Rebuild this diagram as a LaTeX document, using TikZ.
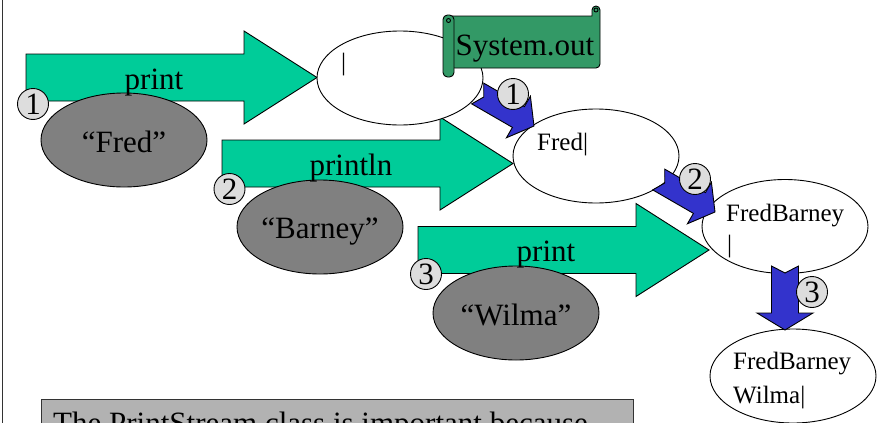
\documentclass[tikz,border=0pt]{standalone}
\usepackage{fontspec}
\setmainfont{Liberation Serif}
\usetikzlibrary{shapes.geometric}

\definecolor{sea}{HTML}{00CC99}
\definecolor{scrollgreen}{HTML}{339966}
\definecolor{royal}{HTML}{3333CC}
\definecolor{stone}{HTML}{808080}
\definecolor{pale}{HTML}{DDDDDD}
\definecolor{panel}{HTML}{B2B2B2}

\newcommand\bigfont{\fontsize{31}{36}\selectfont}
\newcommand\buffont{\fontsize{25}{30}\selectfont}

\tikzset{
  outline/.style={draw=black, line width=0.9pt},
  argblob/.style={ellipse, outline, fill=stone, minimum width=166pt, minimum height=94pt, inner sep=0pt},
  bufblob/.style={ellipse, outline, fill=white, minimum width=166pt, minimum height=94pt, inner sep=0pt},
  numtag/.style={circle, outline, fill=pale, minimum size=31pt, inner sep=0pt, font=\bigfont},
  bigtext/.style={font=\bigfont, inner sep=0pt, anchor=base},
  buftext/.style={font=\buffont, inner sep=0pt, anchor=base west},
  % wide method-call arrow, origin at the middle of its tail
  pics/callarrow/.style={code={
    \draw[outline, fill=sea] (0,-23.5) -- (218,-23.5) -- (218,-46.5) -- (291,0)
      -- (218,46.5) -- (218,23.5) -- (0,23.5) -- cycle;}},
  % notched block arrow, origin at its tip:
  % #1 length, #2 half shaft, #3 half head, #4 head length, #5 notch depth
  pics/notcharrow/.style n args={5}{code={
    \draw[outline, fill=royal] (0,0) -- (-#4,#3) -- (-#4,#2) -- (-#1,#2) -- (-#1+#5,0)
      -- (-#1,-#2) -- (-#4,-#2) -- (-#4,-#3) -- cycle;}},
}

\begin{document}
\begin{tikzpicture}[x=1pt,y=-1pt]
\useasboundingbox (0,0) rectangle (881,423);
\clip (0,0) rectangle (881,423);

% left rule
\coordinate (ruletop) at (2.5,0);
\coordinate (rulebot) at (2.5,423);
\draw[line width=0.8pt, draw=black!80] (ruletop) -- (rulebot);

% call arrows
\pic at (26,77.5) {callarrow};
\pic at (222,163.5) {callarrow};
\pic at (418,250) {callarrow};

% stream buffer states
\node[bufblob] (buf0) at (400,78) {};
\node[bufblob] (buf1) at (596,156) {};
\node[bufblob] (buf2) at (785,226.5) {};
\node[bufblob] (buf3) at (793,376) {};
\node[buftext] (cur0) at (341,70) {|};
\node[buftext] (txt1) at (537,150) {Fred|};
\node[buftext] (txt2a) at (726,221) {FredBarney};
\node[buftext] (txt2b) at (727,252) {|};
\node[buftext] (txt3a) at (733,369) {FredBarney};
\node[buftext] (txt3b) at (733,403) {Wilma|};

% string arguments
\node[argblob] (fred) at (124,140) {};
\node[argblob] (barney) at (320,227) {};
\node[argblob] (wilma) at (516,313) {};
\node[bigtext] (fredtxt) at (124,152) {“Fred”};
\node[bigtext] (barneytxt) at (320,238) {“Barney”};
\node[bigtext] (wilmatxt) at (516,325) {“Wilma”};

% method names
\node[bigtext] (call1) at (154,89) {print};
\node[bigtext] (call2) at (351,175) {println};
\node[bigtext] (call3) at (546,261) {print};

% System.out scroll
\draw[outline, fill=scrollgreen] (452,16) -- (592,16) -- (592,10)
  arc[start angle=180, end angle=360, radius=4] -- (600,64)
  arc[start angle=0, end angle=90, radius=4] -- (452,68) -- cycle;
\draw[outline] (596,10) circle[radius=2];
\draw[outline, fill=scrollgreen, rounded corners=4.5] (443,15) rectangle (454,77);
\draw[outline] (448.5,20.5) circle[radius=2];
\node[bigtext] (sysout) at (525,55) {System.out};

% buffer transitions
\pic[rotate=-30] at (534,126) {notcharrow={65}{12}{24}{18}{7}};
\pic[rotate=-30] at (715,212) {notcharrow={65}{12}{24}{18}{7}};
\pic[rotate=-90] at (785,330) {notcharrow={64}{13.5}{28}{17}{7}};

% step numbers
\node[numtag] (n1a) at (33,104) {1};
\node[numtag] (n2a) at (229.5,189) {2};
\node[numtag] (n3a) at (426,274) {3};
\node[numtag] (n1b) at (513,94) {1};
\node[numtag] (n2b) at (695,179) {2};
\node[numtag] (n3b) at (812,292) {3};

% note panel
\node[draw=black!80, line width=0.9pt, fill=panel, anchor=north west,
      minimum width=592pt, minimum height=60pt, inner sep=0pt] (note) at (41,399) {};
\node[font=\bigfont, inner sep=0pt, anchor=base west] (notetxt) at (53,433.5)
  {The PrintStream class is important because};
\end{tikzpicture}
\end{document}
